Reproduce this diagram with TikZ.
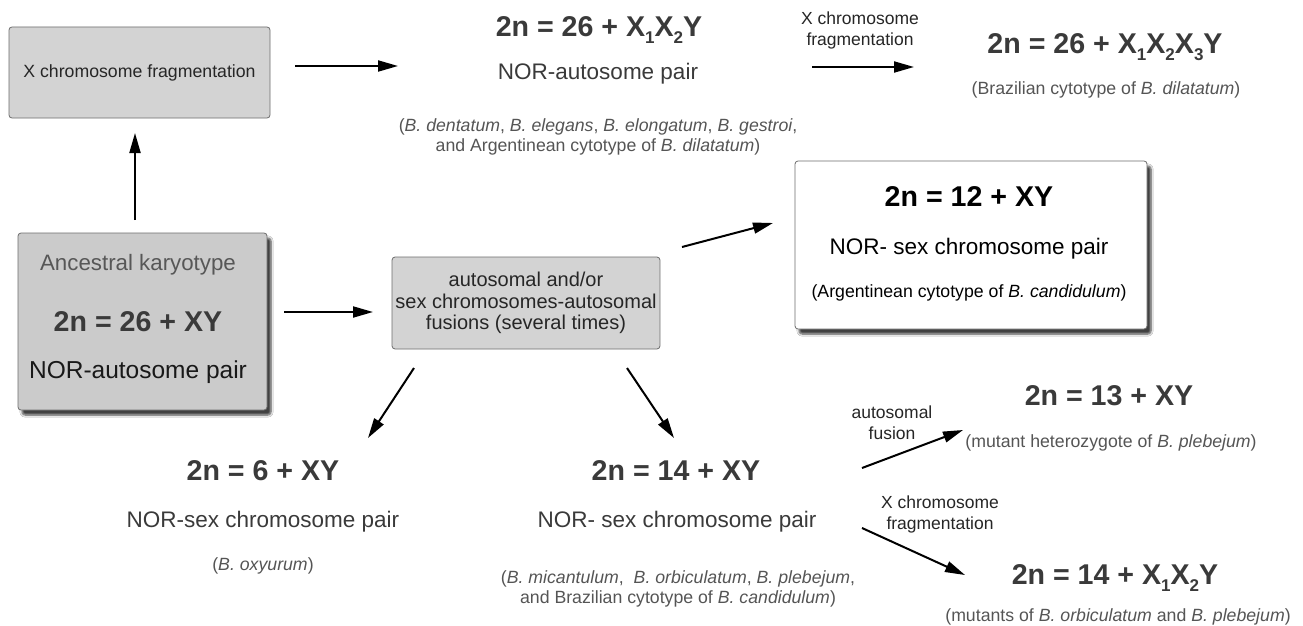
\documentclass[tikz,border=0pt]{standalone}
\usepackage{fontspec}
\setmainfont{Liberation Sans}
\usetikzlibrary{arrows.meta,shadows.blur}
\definecolor{fg}{HTML}{3A3A3A}
\definecolor{sp}{HTML}{555555}
\definecolor{boxfill}{HTML}{D3D3D3}
\definecolor{ancfill}{HTML}{CBCBCB}
\definecolor{boxline}{HTML}{6E6E6E}
\newcommand\sbx[1]{\raisebox{-0.25em}{\fontsize{17}{17}\selectfont #1}}
\tikzset{
  fo/.style={font=\fontsize{28.6}{30}\selectfont\bfseries, text=fg, inner sep=0pt},
  nor/.style={font=\fontsize{22.5}{24}\selectfont, text=fg, inner sep=0pt},
  spec/.style={font=\fontsize{17.7}{19.5}\selectfont, text=sp, align=center, inner sep=0pt},
  lab/.style={font=\fontsize{17.5}{21}\selectfont, text=black!85, align=center, inner sep=0pt},
  graybox/.style={draw=boxline, fill=boxfill, rounded corners=3pt, line width=0.8pt},
  arr/.style={-{Triangle[length=20pt,width=11pt]}, line width=2pt, black},
}
\begin{document}
\begin{tikzpicture}[x=1pt,y=-1pt]
\useasboundingbox[fill=white] (0,0) rectangle (1303,626);
% boxes
\node[graybox, minimum width=261pt, minimum height=91pt, font=\fontsize{17.7}{20}\selectfont, text=black!85] (xfrag) at (139.5,72.5) {X chromosome fragmentation};
\node[graybox, fill=ancfill, minimum width=249pt, minimum height=177pt, blur shadow={shadow xshift=4pt, shadow yshift=-5pt, shadow blur steps=6, shadow opacity=75}] (anc) at (142.5,321.5) {};
\node[font=\fontsize{22.3}{24}\selectfont, text=fg!85, inner sep=0pt] (ancT) at (138,265) {Ancestral karyotype};
\node[fo] (ancF) at (138,322) {2n = 26 + XY};
\node[font=\fontsize{24.5}{26}\selectfont, text=black!90, inner sep=0pt] (ancN) at (138,372) {NOR-autosome pair};
\node[graybox, minimum width=262pt, minimum height=92pt, align=center, font=\fontsize{20}{21.5}\selectfont, text=black!85] (fus) at (526,303) {autosomal and/or\\sex chromosomes-autosomal\\fusions (several times)};
\node[draw=boxline, fill=white, rounded corners=3pt, line width=0.8pt, minimum width=352pt, minimum height=168pt, blur shadow={shadow xshift=4pt, shadow yshift=-5pt, shadow blur steps=6, shadow opacity=75}] (wbox) at (971,245) {};
\node[fo, text=black] (wF) at (969,197) {2n = 12 + XY};
\node[nor, text=black] (wN) at (969,249) {NOR- sex chromosome pair};
\node[spec, text=black] (wS) at (969,293) {(Argentinean cytotype of \textit{B. candidulum})};
% top middle
\node[fo] (t1F) at (599,30) {2n = 26 + X\sbx{1}X\sbx{2}Y};
\node[nor] (t1N) at (598,74) {NOR-autosome pair};
\node[spec] (t1S) at (598,137) {(\textit{B. dentatum}, \textit{B. elegans}, \textit{B. elongatum}, \textit{B. gestroi},\\and Argentinean cytotype of \textit{B. dilatatum})};
% top right
\node[lab] (l1) at (860,30) {X chromosome\\fragmentation};
\node[fo] (t2F) at (1105,47) {2n = 26 + X\sbx{1}X\sbx{2}X\sbx{3}Y};
\node[spec] (t2S) at (1106,90) {(Brazilian cytotype of \textit{B. dilatatum})};
% bottom left
\node[fo] (b1F) at (263,471) {2n = 6 + XY};
\node[nor] (b1N) at (263,522) {NOR-sex chromosome pair};
\node[spec] (b1S) at (263,566) {(\textit{B. oxyurum})};
% bottom middle
\node[fo] (b2F) at (676,471) {2n = 14 + XY};
\node[nor] (b2N) at (677,522) {NOR- sex chromosome pair};
\node[spec] (b2S) at (678,589) {(\textit{B. micantulum},\ \ \textit{B. orbiculatum}, \textit{B. plebejum},\\and Brazilian cytotype of \textit{B. candidulum})};
% bottom right
\node[lab] (l2) at (892,423) {autosomal\\fusion};
\node[fo] (b3F) at (1109,396) {2n = 13 + XY};
\node[spec] (b3S) at (1111,443) {(mutant heterozygote of \textit{B. plebejum})};
\node[lab] (l3) at (940,514) {X chromosome\\fragmentation};
\node[fo] (b4F) at (1115,578) {2n = 14 + X\sbx{1}X\sbx{2}Y};
\node[spec] (b4S) at (1118,617) {(mutants of \textit{B. orbiculatum} and \textit{B. plebejum})};
% arrow end coordinates
\coordinate (a1s) at (135,220); \coordinate (a1e) at (135,133);
\coordinate (a2s) at (295,66);  \coordinate (a2e) at (398,66);
\coordinate (a3s) at (812,67);  \coordinate (a3e) at (914,67);
\coordinate (a4s) at (284,312); \coordinate (a4e) at (373,312);
\coordinate (a5s) at (682,247); \coordinate (a5e) at (773,223);
\coordinate (a6s) at (414,368); \coordinate (a6e) at (368,438);
\coordinate (a7s) at (627,368); \coordinate (a7e) at (674,438);
\coordinate (a8s) at (862,468); \coordinate (a8e) at (963,430);
\coordinate (a9s) at (862,528); \coordinate (a9e) at (965,575);
\foreach \i in {1,...,9} \draw[arr] (a\i s) -- (a\i e);
\end{tikzpicture}
\end{document}
